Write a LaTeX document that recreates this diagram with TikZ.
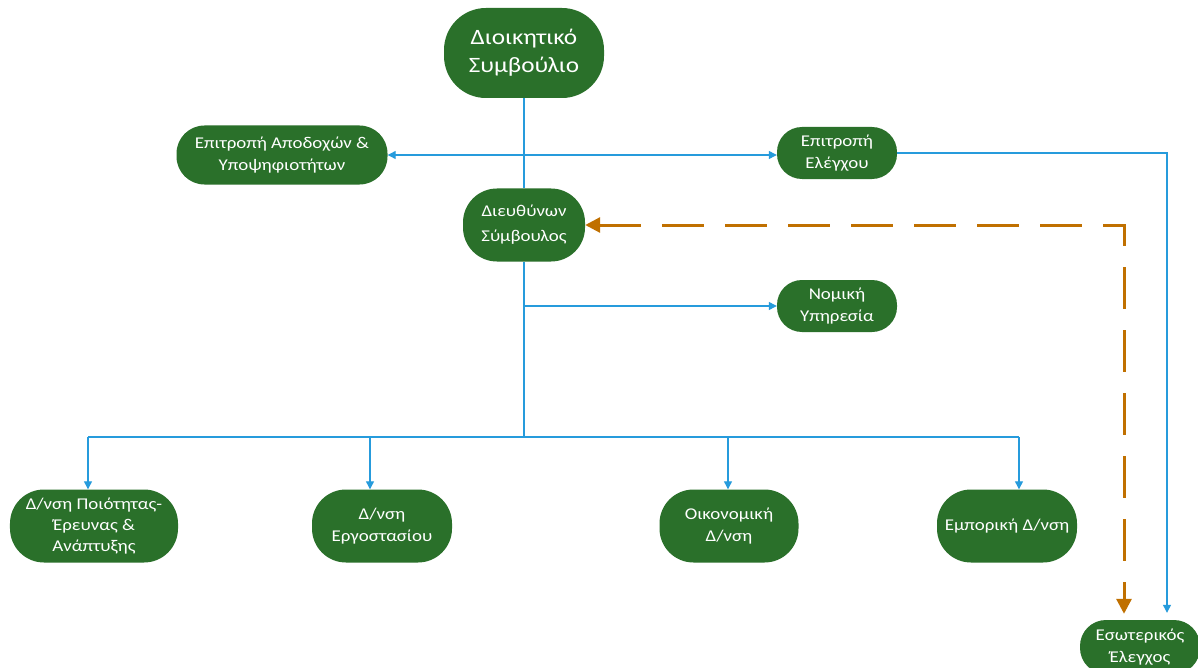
\documentclass[tikz,border=0pt]{standalone}
\usepackage{fontspec}
\setmainfont{Carlito}[FakeStretch=1.15]
\usetikzlibrary{arrows.meta}
\definecolor{boxgreen}{RGB}{42,112,42}
\definecolor{linkblue}{RGB}{38,155,220}
\definecolor{dashorange}{RGB}{192,112,0}
\tikzset{
  orgbox/.style={fill=boxgreen, text=white, align=center, inner sep=0pt,
    font=\fontsize{16.5}{22}\selectfont},
  bluelink/.style={draw=linkblue, line width=1.2bp},
  bluetip/.style={-{Triangle[length=8bp,width=8bp]}},
  dashlink/.style={draw=dashorange, line width=3bp, dash pattern=on 42bp off 21bp,
    {Triangle[length=15bp,width=15bp]}-{Triangle[length=15bp,width=15bp]}}
}
\begin{document}
\begin{tikzpicture}[x=1bp,y=-1bp]
\clip (0,0) rectangle (1198,668);
\fill[white] (0,0) rectangle (1198,668);
% nodes
\node[orgbox, minimum width=160bp, minimum height=90bp, rounded corners=42bp,
  font=\fontsize{22}{28}\selectfont] (board) at (524,53) {Διοικητικό\\Συμβούλιο};
\node[orgbox, minimum width=211bp, minimum height=59bp, rounded corners=28bp,
  font=\fontsize{16.5}{23}\selectfont] (rem) at (282,155) {Επιτροπή Αποδοχών \&\\Υποψηφιοτήτων};
\node[orgbox, minimum width=120bp, minimum height=52bp, rounded corners=25bp] (audit) at (837,153) {Επιτροπή\\Ελέγχου};
\node[orgbox, minimum width=122bp, minimum height=73bp, rounded corners=34bp,
  font=\fontsize{16.5}{25}\selectfont] (ceo) at (524,225) {Διευθύνων\\Σύμβουλος};
\node[orgbox, minimum width=120bp, minimum height=52bp, rounded corners=25bp] (legal) at (837,306) {Νομική\\Υπηρεσία};
\node[orgbox, minimum width=168bp, minimum height=73bp, rounded corners=34bp,
  font=\fontsize{16.5}{21.5}\selectfont] (qual) at (94,526) {Δ/νση Ποιότητας-\\Έρευνας \&\\Ανάπτυξης};
\node[orgbox, minimum width=140bp, minimum height=73bp, rounded corners=34bp] (fac) at (382,526) {Δ/νση\\Εργοστασίου};
\node[orgbox, minimum width=139bp, minimum height=73bp, rounded corners=34bp] (eco) at (729,526) {Οικονομική\\Δ/νση};
\node[orgbox, minimum width=140bp, minimum height=73bp, rounded corners=34bp] (com) at (1007,526) {Εμπορική Δ/νση};
\node[orgbox, minimum width=120bp, minimum height=54bp, rounded corners=26bp] (ia) at (1140,647) {Εσωτερικός\\Έλεγχος};
% connectors
\draw[bluelink] (board.south) -- (ceo.north);
\draw[bluelink, {Triangle[length=8bp,width=8bp]}-{Triangle[length=8bp,width=8bp]}] (rem.east) -- (rem.east -| audit.west);
\draw[bluelink, bluetip] (audit.east) -| ([xshift=27bp,yshift=7bp]ia.north);
\draw[bluelink, bluetip] (ceo.south |- legal.west) -- (legal.west);
\coordinate (busmid) at (524,437);
\coordinate (busL) at (88,437);
\coordinate (busF) at (370,437);
\coordinate (busE) at (728,437);
\coordinate (busR) at (1019,437);
\draw[bluelink] (ceo.south) -- (busmid);
\draw[bluelink] (busL) -- (busR);
\draw[bluelink, bluetip] (busL) -- (busL |- qual.north);
\draw[bluelink, bluetip] (busF) -- (busF |- fac.north);
\draw[bluelink, bluetip] (busE) -- (busE |- eco.north);
\draw[bluelink, bluetip] (busR) -- (busR |- com.north);
\draw[dashlink] (ceo.east) -| ([xshift=-16bp,yshift=6bp]ia.north);
\end{tikzpicture}
\end{document}
